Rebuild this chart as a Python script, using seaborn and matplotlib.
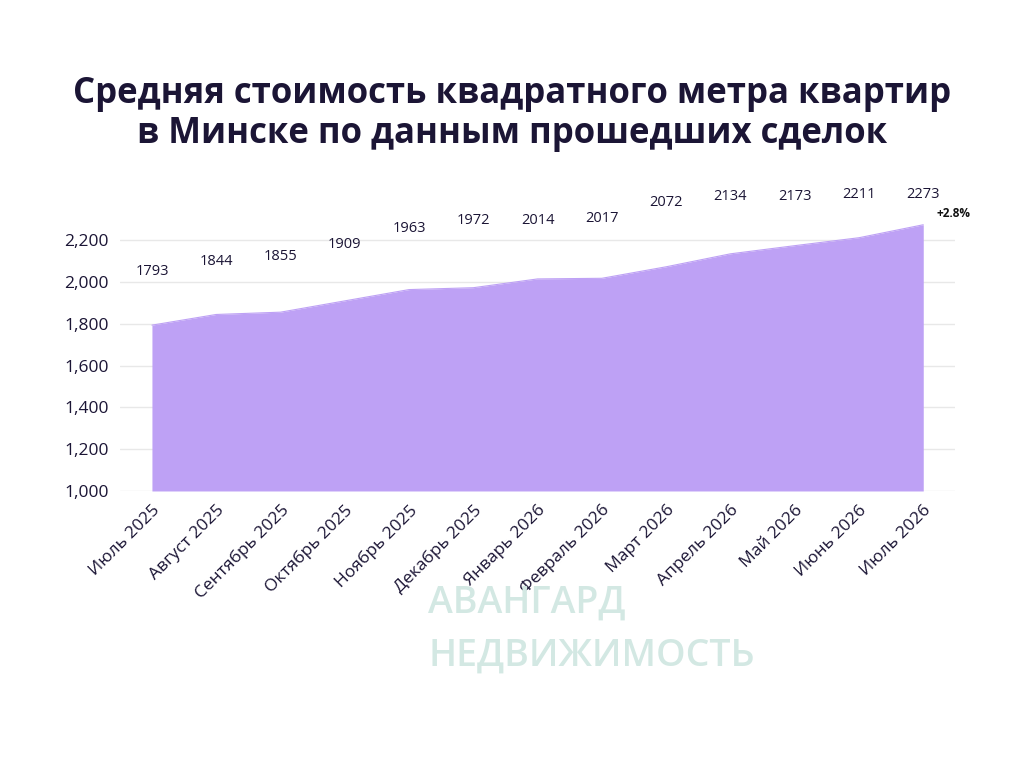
import matplotlib
matplotlib.use('Agg')
import matplotlib.pyplot as plt
import seaborn as sns
import pandas as pd

# Данные графика
months = ['Июль 2025', 'Август 2025', 'Сентябрь 2025', 'Октябрь 2025', 'Ноябрь 2025',
          'Декабрь 2025', 'Январь 2026', 'Февраль 2026', 'Март 2026', 'Апрель 2026',
          'Май 2026', 'Июнь 2026', 'Июль 2026']
prices = [1793, 1844, 1855, 1909, 1963, 1972, 2014, 2017, 2072, 2134, 2173, 2211, 2273]
change_label = '+2.8%'
title = 'Средняя стоимость квадратного метра квартир\nв Минске по данным прошедших сделок'

df = pd.DataFrame({'month': months, 'price': prices})
df['pos'] = range(len(df))

sns.set_theme(style='white')
plt.rcParams['font.family'] = ['Open Sans', 'DejaVu Sans']

fill_color = '#BEA1F5'
text_color = '#1b1535'

fig = plt.figure(figsize=(10.24, 7.68), dpi=100)
ax = fig.add_axes([0.117, 0.3607, 0.816, 0.354])

# Область под линией
ax.fill_between(df['pos'], 1000, df['price'], color=fill_color, linewidth=0, zorder=2)
sns.lineplot(data=df, x='pos', y='price', ax=ax, color=fill_color, linewidth=0.8, zorder=3)

ax.set_xlim(-0.5, len(df) - 0.5)
ax.set_ylim(1000, 2300)
ax.set_yticks(range(1000, 2201, 200))
ax.set_yticklabels([f'{v:,}' for v in range(1000, 2201, 200)], fontsize=12.5, color=text_color)
ax.set_xticks(df['pos'])
ax.set_xticklabels(df['month'], rotation=45, ha='right', rotation_mode='anchor',
                   fontsize=12.5, color=text_color)
ax.tick_params(axis='both', length=0, pad=8)
ax.grid(axis='y', color='#e8e8e8', linewidth=1, zorder=0)
ax.set_axisbelow(True)
ax.set_xlabel('')
ax.set_ylabel('')
for s in ax.spines.values():
    s.set_visible(False)

# Подписи значений (смещения подобраны вручную)
label_offsets = [255, 252, 265, 268, 291, 320, 278, 284, 306, 273, 234, 205, 143]
for x, v, off in zip(df['pos'], df['price'], label_offsets):
    ax.text(x, v + off, str(v), ha='center', va='center', fontsize=10.5,
            color=text_color, clip_on=False)

ax.text(len(df) - 1 + 0.2, prices[-1] + 52, change_label, ha='left', va='center',
        fontsize=8.5, fontweight='bold', color='#111111', clip_on=False)

fig.text(0.5, 0.852, title, ha='center', va='center', fontsize=25,
         fontweight='bold', color=text_color, linespacing=1.15)

# Водяной знак
fig.text(0.418, 0.215, 'АВАНГАРД', fontsize=27, fontweight='semibold',
         color='#d3e8e3', ha='left', va='center', zorder=0)
fig.text(0.418, 0.147, 'НЕДВИЖИМОСТЬ', fontsize=27, fontweight='semibold',
         color='#d3e8e3', ha='left', va='center', zorder=0)

fig.savefig('out.png', dpi=100, facecolor='white')
